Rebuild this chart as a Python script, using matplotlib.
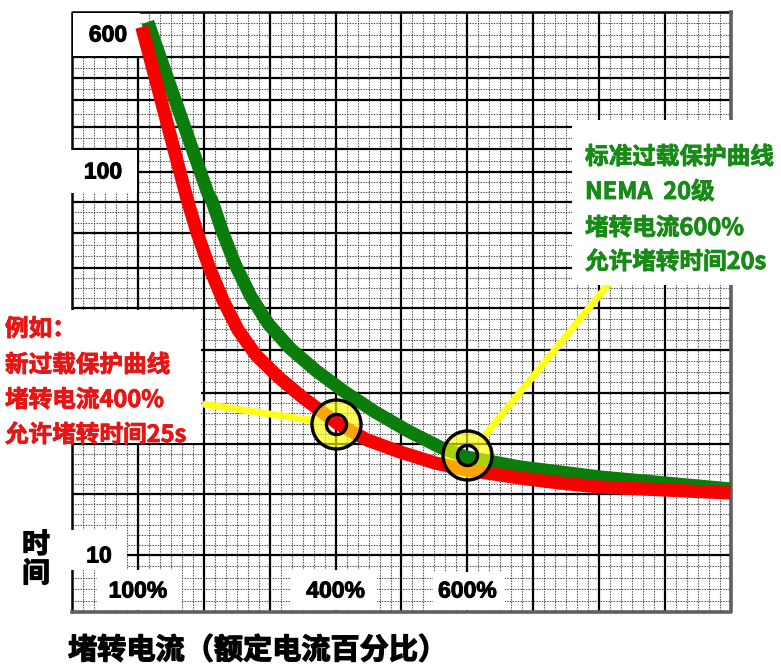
import numpy as np
import matplotlib.pyplot as plt
import matplotlib.patheffects as pe
from matplotlib.patches import Rectangle

plt.rcParams['font.family'] = ['Noto Sans CJK SC', 'DejaVu Sans']

# x: locked-rotor current in multiples of rated current (1 = 100%)
# y: position on the (distorted log) time grid, rows counted from the top
red_x = [1.06, 1.75, 1.90, 2.08, 2.29, 2.52, 2.79, 3.13, 3.51, 4.04, 4.48, 4.98,
         5.51, 5.99, 6.80, 7.40, 8.01, 9.99]
red_y = [27, 200, 233, 267, 300, 330, 355, 377, 398, 424, 440, 452,
         463, 470, 478, 483, 487, 493]

green_x = [1.15, 2.06, 2.12, 2.29, 2.48, 2.71, 2.98, 3.32, 3.71, 4.14, 4.60, 5.10,
           5.58, 5.98, 6.80, 8.01, 9.99]
green_y = [22, 193, 200, 233, 265, 296, 324, 349, 371, 392, 412, 431,
           447, 457, 467, 477, 489]

y_tick_rows = [35, 172, 556]
y_tick_labels = ['600', '100', '10']
x_tick_vals = [1, 4, 6]
x_tick_labels = ['100%', '400%', '600%']

major_rows = [57, 78, 100, 127, 149, 172, 202, 233, 268, 308, 350, 393, 444, 494, 555]

circle_x = [4.0, 6.0]
circle_y = [424, 455]

red_note = ['例如：', '新过载保护曲线', '堵转电流400%', '允许堵转时间25s']
green_note = ['标准过载保护曲线', 'NEMA  20级', '堵转电流600%', '允许堵转时间20s']

TOP, BOTTOM = 12, 612
W, H = 781, 665


def px2x(p):
    return (p - 72) / 65.9


def heavy(color, w=0.6):
    return [pe.withStroke(linewidth=w, foreground=color)]


fig = plt.figure(figsize=(W / 100, H / 100), dpi=100)
ax = fig.add_axes([72 / W, (H - BOTTOM) / H, 659 / W, (BOTTOM - TOP) / H])
ax.set_xlim(0, 10)
ax.set_ylim(BOTTOM, TOP)
ax.set_axis_off()

# dotted minor grid
rows = [TOP] + major_rows + [BOTTOM]
minor_rows = []
for a, b in zip(rows[:-1], rows[1:]):
    n = max(2, int(round((b - a) / 11)))
    minor_rows += list(np.linspace(a, b, n + 1)[1:-1])
minor_cols = [k + j / 6 for k in range(10) for j in range(1, 6)]
ax.hlines(minor_rows, 0, 10, colors='#444444', lw=0.8, linestyles=(0, (1.2, 1.2)), zorder=1)
ax.vlines(minor_cols, TOP, BOTTOM, colors='#444444', lw=0.8, linestyles=(0, (1.2, 1.2)), zorder=1)

# major grid + frame
ax.hlines(major_rows, 0, 10, colors='black', lw=1.6, zorder=2)
ax.vlines(range(1, 10), TOP, BOTTOM, colors='black', lw=1.6, zorder=2)
ax.plot([0, 0, 10], [BOTTOM, TOP, TOP], color='black', lw=1.8, zorder=2, clip_on=False)
ax.plot([0, 10, 10], [BOTTOM, BOTTOM, TOP], color='#606060', lw=2.6, zorder=2, clip_on=False)

# white label patches over the grid
boxes = [(73, 13, 140, 56), (58, 150, 137, 193), (58, 530, 127, 570),
         (97, 570, 182, 610), (290, 570, 377, 610), (433, 572, 505, 610),
         (0, 310, 201, 443), (572, 120, 781, 285)]
for x0, y0, x1, y1 in boxes:
    ax.add_patch(Rectangle((px2x(x0), y0), px2x(x1) - px2x(x0), y1 - y0,
                           facecolor='white', edgecolor='none', zorder=3, clip_on=False))

# yellow call-out lines
ax.plot([px2x(203), px2x(316)], [404, 421], color='#ffff1a', lw=5, zorder=2.8,
        solid_capstyle='butt', clip_on=False)
ax.plot([px2x(481), px2x(612)], [440, 280], color='#ffff1a', lw=5, zorder=2.8,
        solid_capstyle='butt', clip_on=False)

# curves
ax.plot(green_x, green_y, color='#0a7d0a', lw=9.5, zorder=4,
        solid_capstyle='butt', solid_joinstyle='round')
ax.plot(red_x, red_y, color='#f80000', lw=9.5, zorder=4.2,
        solid_capstyle='butt', solid_joinstyle='round')

# highlight rings
ax.plot(circle_x, circle_y, 'o', ms=24.5, mfc='none', mec='#ffff00', mew=8.6,
        alpha=0.65, zorder=5)
ax.plot(circle_x, circle_y, 'o', ms=35.3, mfc='none', mec='black', mew=2.4, zorder=5.2)
ax.plot(circle_x, circle_y, 'o', ms=14.5, mfc='none', mec='black', mew=2.4, zorder=5.2)

# axis numbers
num_font = dict(ha='center', va='center', fontsize=16.5, fontweight='bold',
                family='Liberation Sans', color='black', zorder=6,
                path_effects=heavy('black', 0.7))
for px_c, row, lab in zip([108, 103, 99], y_tick_rows, y_tick_labels):
    ax.text(px2x(px_c), row, lab, **num_font)
for xv, lab in zip(x_tick_vals, x_tick_labels):
    ax.text(xv, 591, lab, **num_font)

# notes
for row, line in zip([329, 365, 400, 435], red_note):
    ax.text(px2x(5), row, line, ha='left', va='center', fontsize=17,
            fontweight='bold', color='#e81515', zorder=6,
            path_effects=heavy('#e81515'))
for row, line in zip([157, 192, 228, 262], green_note):
    ax.text(px2x(585), row, line, ha='left', va='center', fontsize=17,
            fontweight='bold', color='#178a17', zorder=6,
            path_effects=heavy('#178a17'))

# outer labels
fig.text(36 / W, 1 - 545 / H, '时', ha='center', va='center', fontsize=20,
         fontweight='bold', color='black', path_effects=heavy('black', 0.9))
fig.text(36 / W, 1 - 574 / H, '间', ha='center', va='center', fontsize=20,
         fontweight='bold', color='black', path_effects=heavy('black', 0.9))
fig.text(68 / W, 1 - 650 / H, '堵转电流（额定电流百分比）', ha='left', va='center',
         fontsize=21, fontweight='bold', color='black', path_effects=heavy('black', 0.9))

fig.savefig('out.png', dpi=100, facecolor='white')
